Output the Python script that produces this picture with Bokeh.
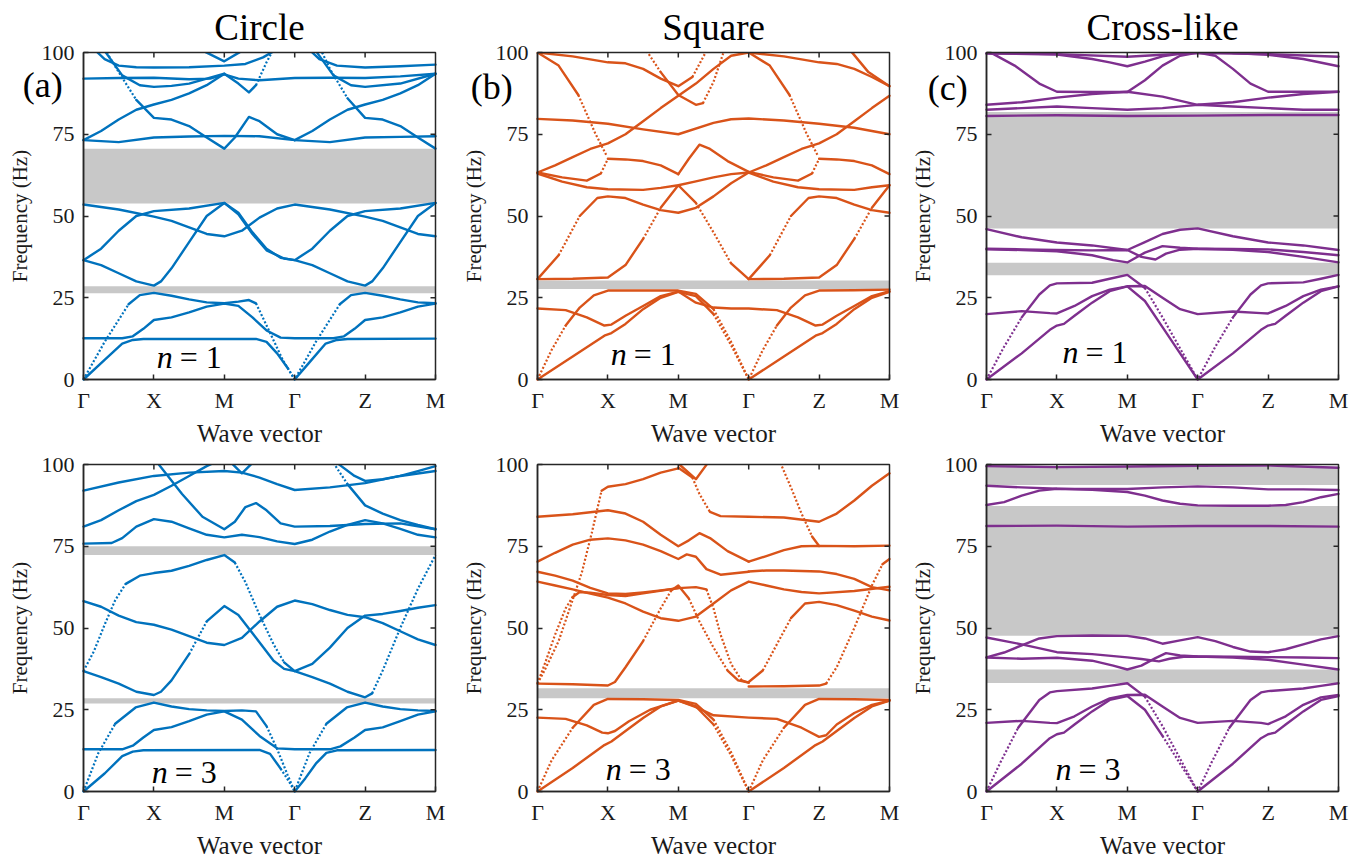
from bokeh.plotting import figure
from bokeh.models import Range1d, FixedTicker, Label
from bokeh.layouts import column, row
from bokeh.embed import file_html
from bokeh.resources import INLINE

# ---------------- data ----------------
K_TICKS = [0, 1, 2, 3, 4, 5]
K_LABELS = ["Γ", "X", "M", "Γ", "Z", "M"]
F_TICKS = [0, 25, 50, 75, 100]
TITLES = ["Circle", "Square", "Cross-like"]
TAGS = ["(a)", "(b)", "(c)"]
N_VALUES = ["1", "3"]
COLORS = ["#0072BD", "#D95319", "#7E2F8E"]

# band gaps (Hz): lower and upper edges
CIRCLE_N1_GAP_LO = [53.8, 26.4]
CIRCLE_N1_GAP_HI = [70.6, 28.5]
SQUARE_N1_GAP_LO = [27.7]
SQUARE_N1_GAP_HI = [30.3]
CROSS_N1_GAP_LO = [46.2, 31.9]
CROSS_N1_GAP_HI = [81.8, 35.7]
CIRCLE_N3_GAP_LO = [72.3, 26.9]
CIRCLE_N3_GAP_HI = [75.0, 28.5]
SQUARE_N3_GAP_LO = [28.5]
SQUARE_N3_GAP_HI = [31.6]
CROSS_N3_GAP_LO = [93.7, 47.6, 33.2]
CROSS_N3_GAP_HI = [99.3, 87.3, 37.3]

# bands: (wave-vector position along Γ-X-M-Γ-Z-M, frequency in Hz)
CIRCLE_N1 = [
    [(0,0),(0.3,6),(0.55,11),(0.7,12.1),(0.85,12.4),(2.45,12.4),(2.6,11.5),(2.75,8),(2.9,3.5),(3,0),(3.2,5),(3.44,11),(3.6,12.1),(3.75,12.4),(5,12.5)],
    [(0,0),(0.3,11.5),(0.64,23),(0.8,25.8),(1,26.5),(1.25,25.6),(1.5,24.5),(1.75,23.6),(2,23.3),(2.2,23.8),(2.35,24.3),(2.45,23.3),(2.59,17),(2.83,6),(3,0),(3.3,11.5),(3.64,23),(3.8,25.8),(4,26.5),(4.25,25.6),(4.5,24.5),(4.75,23.6),(5,23.3)],
    [(0,12.6),(0.55,12.6),(0.7,13.2),(0.85,15.5),(1,18.2),(1.25,19),(1.5,20.5),(1.75,22.3),(2,23.2),(2.2,22.5),(2.4,19),(2.6,15),(2.8,12.8),(3,12.6),(3.55,12.6),(3.7,13.2),(3.85,15.5),(4,18.2),(4.25,19),(4.5,20.5),(4.75,22.3),(5,23.2)],
    [(0,36.5),(0.25,35),(0.5,32.5),(0.75,30),(1,28.7),(1.1,30),(1.25,34),(1.5,42),(1.75,50),(2,54),(2.2,50.5),(2.4,44.5),(2.6,39.5),(2.85,37),(3,36.5),(3.25,35),(3.5,32.5),(3.75,30),(4,28.7),(4.1,30),(4.25,34),(4.5,42),(4.75,50),(5,54)],
    [(0,36.5),(0.25,40),(0.5,45.5),(0.75,50),(1,51.5),(1.5,52.3),(2,54),(2.2,51),(2.4,45),(2.6,40),(2.8,37.2),(3,36.5),(3.25,40),(3.5,45.5),(3.75,50),(4,51.5),(4.5,52.3),(5,54)],
    [(0,53.5),(0.5,52),(1,49.8),(1.25,48.5),(1.5,46.5),(1.75,44.5),(2,43.8),(2.25,45.5),(2.5,49.5),(2.75,52.3),(3,53.5),(3.5,52),(4,49.8),(4.25,48.5),(4.5,46.5),(4.75,44.5),(5,43.8)],
    [(0,73.2),(0.5,72.6),(1,74),(1.5,74.3),(2,74.5),(2.5,74.4),(3,73.2),(3.5,72.6),(4,74),(4.5,74.2),(5,74.4)],
    [(0,73.2),(0.25,76),(0.5,79.5),(0.75,82.5),(1,84.1),(1.25,85.5),(1.5,87.5),(1.75,90),(2,93.5),(2.2,90.5),(2.35,87.8),(2.45,90),(2.6,97),(2.7,101)],
    [(3,73.2),(3.25,76),(3.5,79.5),(3.75,82.5),(4,84.1),(4.25,85.5),(4.5,87.5),(4.75,90),(5,93.5)],
    [(0.2,104),(0.33,100),(0.5,94),(0.75,85.5),(1,80),(1.25,79.5),(1.5,77.5),(1.75,74),(2,70.6),(2.15,74),(2.35,80.3),(2.5,79),(2.75,75),(3,73.2)],
    [(3.2,104),(3.39,100),(3.5,95),(3.75,86),(4,80),(4.25,79.5),(4.5,77.5),(4.75,74),(5,70.6)],
    [(0,92),(0.5,92.2),(1,92.3),(1.5,91.8),(1.8,92),(2,93.3),(2.2,92),(2.5,91.5),(3,92.2),(3.5,92.3),(4,92.2),(4.5,92.7),(5,93.5)],
    [(0.15,101),(0.3,98),(0.5,96),(0.75,95.5),(1,95.4),(1.5,95.5),(2,96),(2.3,96.5),(2.55,98.5),(2.75,101)],
    [(0.3,100.5),(0.55,93),(0.8,90),(1,89.5),(1.25,89.8),(1.5,90.5),(1.75,92),(2,93.5)],
    [(3.3,100.5),(3.55,93),(3.8,90),(4,89.5),(4.5,90.5),(5,93.5)],
    [(3.2,101),(3.35,98),(3.6,96),(4,95.4),(4.5,95.8),(5,96.3)],
    [(1.7,100.5),(2,97.3),(2.25,100.5)],
]

SQUARE_N1 = [
    [(0,0),(0.5,7),(0.95,13.4),(1.05,14.2),(1.25,17),(1.5,21.5),(1.75,25),(2,26.8),(2.25,25.5),(2.5,20),(2.75,10.5),(3,0),(3.5,7),(3.95,13.4),(4.05,14.2),(4.25,17),(4.5,21.5),(4.75,25),(5,26.8)],
    [(0,0),(0.2,9),(0.4,16.5),(0.6,22),(0.8,25.7),(1,27.2),(1.5,27.2),(2,27.2),(2.25,26.2),(2.5,21.5),(2.75,11.5),(3,0),(3.2,9),(3.4,16.5),(3.6,22),(3.8,25.7),(4,27.2),(4.5,27.3),(5,27.5)],
    [(0,21.7),(0.4,21.2),(0.7,19),(0.95,16.5),(1.05,16.8),(1.25,19.5),(1.5,22.5),(1.75,25.5),(2,26.9),(2.25,23.5),(2.5,22),(2.75,21.7),(3,21.7),(3.4,21.2),(3.7,19),(3.95,16.5),(4.05,16.8),(4.25,19.5),(4.5,22.5),(4.75,25.5),(5,27)],
    [(0,30.7),(0.5,30.8),(1,31.2),(1.25,35),(1.5,43),(1.75,52.5),(2,59.4),(2.25,54),(2.5,45),(2.75,35.5),(3,30.7),(3.5,30.8),(4,31.2),(4.25,35),(4.5,43),(4.75,52.5),(5,59.4)],
    [(0,30.7),(0.3,38),(0.6,50),(0.85,55.5),(1,56),(1.25,55.5),(1.5,53.5),(1.75,51.8),(2,51),(2.25,52.5),(2.5,56),(2.75,60),(3,63.3)],
    [(3,30.7),(3.3,38),(3.6,50),(3.85,55.5),(4,56),(4.25,55.5),(4.5,53.5),(4.75,51.8),(5,51)],
    [(0,79.7),(0.5,79.2),(1,78.2),(1.5,76.5),(2,75),(2.5,78.5),(2.75,79.6),(3,79.8),(3.5,79.2),(4,78.2),(4.5,77),(5,75)],
    [(0,63.3),(0.25,65.5),(0.5,68),(0.75,70.5),(1,72.2),(1.25,75),(1.5,79),(1.75,83),(2,86.8),(2.25,90.5),(2.5,95),(2.75,99),(3,100)],
    [(3,63.3),(3.25,65.5),(3.5,68),(3.75,70.5),(4,72.2),(4.25,75),(4.5,79),(4.75,83),(5,86.8)],
    [(2,62.8),(2.15,67.5),(2.3,71.8),(2.45,70.5),(2.7,66.8),(3,63.5)],
    [(0,63.3),(0.35,61.8),(0.7,60.8),(0.9,63),(1,67.5),(1.25,67.3),(1.5,66.8),(1.75,65.5),(2,62.8)],
    [(3,63.5),(3.35,61.8),(3.7,60.8),(3.9,63),(4,67.5),(4.25,67.3),(4.5,66.8),(4.75,65.5),(5,62.8)],
    [(0,63),(0.35,60.5),(0.7,58.8),(1,58.2),(1.5,58),(1.75,58.6),(2,59.4),(2.25,60.6),(2.5,61.8),(2.75,62.8),(3,63.3)],
    [(3,63.3),(3.35,60.5),(3.7,58.8),(4,58.2),(4.5,58),(4.75,58.8),(5,59.4)],
    [(0,100),(0.3,96),(0.58,87),(0.82,75.3),(0.98,68.5)],
    [(3,100),(3.3,96),(3.58,87),(3.82,75.3),(3.98,68.5)],
    [(0,100),(0.5,98.8),(1,97),(1.25,96.7),(1.5,95),(1.75,92),(2,89.7),(2.2,92.5),(2.4,100.5)],
    [(3,100),(3.5,98.8),(4,97),(4.25,96.5),(4.5,95),(4.75,92.5),(5,89.7)],
    [(1.55,100.5),(1.75,94),(2,87),(2.25,84),(2.35,84.5),(2.5,91),(2.65,100.5)],
    [(4.45,100.5),(4.7,94),(5,89.7)],
]

CROSS_N1 = [
    [(0,0),(0.5,8),(0.9,15.2),(1,16.5),(1.1,17),(1.25,19.5),(1.5,23.5),(1.75,27),(2,28.5),(2.25,24),(2.5,16),(2.75,8),(3,0),(3.5,8),(3.9,15.2),(4,16.5),(4.1,17),(4.25,19.5),(4.5,23.5),(4.75,27),(5,28.5)],
    [(0,0),(0.25,10),(0.5,19),(0.75,26),(0.9,28.8),(1,29.4),(1.5,29.6),(1.75,30.8),(2,32),(2.25,28),(2.5,19),(2.75,9.5),(3,0),(3.25,10),(3.5,19),(3.75,26),(3.9,28.8),(4,29.4),(4.5,29.7),(4.75,30.8),(5,32)],
    [(0,20),(0.5,20.9),(0.9,20.3),(1,20.2),(1.25,22.5),(1.5,25.5),(1.75,27.5),(2,28.5),(2.25,28.6),(2.5,25),(2.75,21.5),(3,20),(3.5,20.8),(3.9,20.3),(4,20.2),(4.25,22.5),(4.5,25.5),(4.75,27.5),(5,28.5)],
    [(0,46),(0.5,43.5),(1,41.9),(1.5,41),(2,39.6),(2.25,42),(2.5,44.5),(2.75,45.8),(3,46.2),(3.5,43.8),(4,41.9),(4.5,41),(5,39.6)],
    [(0,40),(0.5,39.8),(1,39.6),(1.5,39.5),(2,39.6),(2.2,37.5),(2.4,36.7),(2.55,38.5),(2.75,39.7),(3,40),(3.5,39.9),(4,39.8),(4.5,39),(5,38)],
    [(0,39.8),(0.5,39.6),(1,39.2),(1.5,38),(1.8,36.5),(2,35.8),(2.25,38.8),(2.5,40.8),(2.75,40.3),(3,40),(3.5,39.7),(4,39),(4.5,37.5),(5,35.8)],
    [(0,80.6),(1,80.8),(2,80.6),(3,80.7),(4,80.9),(5,80.9)],
    [(0,84),(0.5,84.8),(1,86.2),(1.5,87.3),(2,88),(2.5,86.5),(3,84),(3.5,84.8),(4,86.2),(4.5,87.3),(5,88)],
    [(0,100),(0.1,99.5),(0.4,96),(0.75,90.5),(1,88),(1.5,87.9),(2,87.9),(2.25,91.5),(2.5,96),(2.75,99),(3,100),(3.25,99),(3.5,95),(3.75,90.5),(4,88),(4.5,88),(5,88)],
    [(0,82.5),(0.5,83),(1,83.5),(1.5,83),(2,82.5),(2.5,83),(3,84),(3.5,83.5),(4,83),(4.5,82.5),(5,82.5)],
    [(0,99.7),(1,99.4),(1.5,98),(1.75,97),(2,95.8),(2.25,97.2),(2.5,98.8),(2.75,99.7)],
    [(0,99.8),(1,99.5),(2,98.7),(2.5,99.3),(3,99.8),(4,99.5),(5,98.7)],
    [(3.5,99.8),(4,99.3),(4.5,98),(5,95.8)],
]

CIRCLE_N3 = [
    [(0,0),(0.3,5.5),(0.55,10.8),(0.7,12.2),(0.85,12.6),(2.5,12.7),(2.65,11.5),(2.8,7),(2.92,3),(3,0),(3.15,4),(3.3,8.5),(3.45,11.8),(3.6,12.6),(5,12.7)],
    [(0,0),(0.21,11.7),(0.45,20.7),(0.74,25.7),(1,27.2),(1.25,26),(1.5,25.2),(1.75,24.8),(2,24.6),(2.25,24.8),(2.45,24.5),(2.6,20),(2.75,13),(2.9,5),(3,0),(3.21,11.7),(3.45,20.7),(3.74,25.7),(4,27.2),(4.25,26),(4.5,25.2),(4.75,24.8),(5,24.6)],
    [(0,12.9),(0.55,12.9),(0.7,14),(0.85,16.5),(1,18.8),(1.25,19.7),(1.5,21.5),(1.75,23.5),(2,24.5),(2.25,22),(2.5,17),(2.75,13.2),(3,12.9),(3.5,12.9),(3.65,13.8),(3.85,16.5),(4,18.8),(4.25,19.6),(4.5,21.5),(4.75,23.5),(5,24.5)],
    [(0,36.8),(0.25,35),(0.5,33),(0.75,30.5),(1,29.5),(1.1,30.5),(1.25,34),(1.5,42),(1.75,52),(2,56.7),(2.2,54),(2.45,47),(2.7,40),(2.85,37.5),(3,36.8),(3.25,35),(3.5,33),(3.75,30.5),(4,28.8),(4.1,30),(4.25,37),(4.5,50),(4.75,62),(5,72.3)],
    [(0,36.8),(0.15,43),(0.3,51),(0.45,58.5),(0.6,63.5),(0.8,66),(1,66.8),(1.25,67.5),(1.5,69),(1.75,70.8),(2,72.3),(2.15,70),(2.3,64),(2.5,54),(2.7,45),(2.85,39.5),(3,36.8),(3.25,39),(3.5,44),(3.75,50),(4,53.8),(4.25,54.3),(4.5,55.2),(4.75,56.2),(5,57)],
    [(0,58.2),(0.25,56.5),(0.5,53.8),(0.75,51.8),(1,51),(1.25,49.5),(1.5,47.5),(1.75,45.5),(2,44.8),(2.25,47),(2.5,52),(2.75,56.5),(3,58.4),(3.25,57.3),(3.5,55.5),(3.75,54),(4,53.3),(4.25,51.5),(4.5,49),(4.75,46.5),(5,44.8)],
    [(0,75.8),(0.4,76),(0.55,77.5),(0.75,81),(1,83.3),(1.25,82.5),(1.5,80.5),(1.75,78.5),(2,77.7),(2.25,78.5),(2.5,77.8),(2.75,76.5),(3,75.7),(3.25,77),(3.5,79.5),(3.75,81.5),(4,83),(4.25,82),(4.5,80.3),(4.75,78.5),(5,77.7)],
    [(0,81),(0.25,83),(0.5,86),(0.75,88.8),(1,90.7),(1.25,93.5),(1.5,96.5),(1.75,99.5),(1.85,100.5)],
    [(0,92),(0.5,94.5),(1,96.5),(1.5,97.5),(2,98),(2.25,97.5),(2.5,96),(2.75,94),(3,92.2),(3.5,93),(4,94.3),(4.5,96.5),(5,98)],
    [(1.05,100.5),(1.4,91),(1.69,84),(2,80.2),(2.15,82.5),(2.3,87),(2.45,88.2),(2.6,86),(2.8,82),(3,81),(3.5,81.2),(4,81.8),(4.5,82),(5,80.2)],
    [(3.55,100.5),(3.75,94),(4,87.5),(4.25,85),(4.5,83),(4.75,81.5),(5,80.2)],
    [(3.6,100.5),(3.85,96.5),(4,95),(4.25,95.5),(4.5,96.5),(4.75,98),(5,99.5)],
    [(2.1,100.5),(2.25,97.3),(2.4,100.5)],
]

SQUARE_N3 = [
    [(0,0),(0.5,7.2),(0.95,14.2),(1.05,15.3),(1.25,18.5),(1.5,22.5),(1.75,26),(2,27.8),(2.25,26),(2.5,20.5),(2.75,11),(3,0),(3.5,7.2),(3.95,14.2),(4.05,15.3),(4.25,18.5),(4.5,22.5),(4.75,26),(5,27.8)],
    [(0,0),(0.2,9.5),(0.5,19.5),(0.8,26.5),(1,28.3),(1.5,28.2),(2,28),(2.25,26.8),(2.5,22),(2.75,12),(3,0),(3.2,9.5),(3.5,19.5),(3.8,26.5),(4,28.3),(4.5,28.2),(5,28)],
    [(0,22.6),(0.4,22.2),(0.7,20.2),(0.92,18),(1,17.8),(1.1,18.5),(1.3,21.5),(1.6,25),(2,27.8),(2.25,25.8),(2.5,23.3),(3,22.6),(3.4,22.2),(3.75,19.5),(4,16.7),(4.1,17.2),(4.25,20.5),(4.5,24),(4.75,26.5),(5,27.8)],
    [(0,33),(0.1,37),(0.3,46),(0.49,58),(0.63,67),(0.77,79),(0.91,92),(1,93.2),(1.25,94),(1.5,95.5),(1.75,97.5),(2,98.8)],
    [(0,33),(0.12,40),(0.25,48),(0.4,56),(0.5,59.5),(0.6,61),(0.75,60.8),(1,60.1),(1.25,59.8),(1.5,60.6),(2,62.2),(2.25,62.5),(2.4,61.8),(2.5,56),(2.6,48),(2.75,39),(2.9,34),(3,33.3)],
    [(0,64.2),(0.25,63),(0.5,61.8),(0.75,60.5),(1,59.3),(1.25,57.5),(1.5,55),(1.75,53),(2,52.2),(2.25,53.5),(2.5,57.5),(2.75,61.5),(3,64.2),(3.25,63),(3.5,61.8),(3.75,61),(4,60.6),(4.5,61.3),(5,62.6)],
    [(0,84),(0.5,84.8),(1,86),(1.25,85),(1.5,82.5),(1.75,78.5),(2,75),(2.15,76.8),(2.3,79),(2.45,77.5),(2.7,73.5),(3,70.3)],
    [(0,70.3),(0.25,73),(0.5,75.5),(0.75,77),(1,77.4),(1.25,76.8),(1.5,75.5),(1.75,73.5),(2,71.1),(2.12,72.5),(2.25,71.8),(2.4,68),(2.6,66.3),(3,67.2)],
    [(0,33),(0.5,32.8),(1,32.4),(1.1,33.5),(1.25,38),(1.5,46),(1.75,56),(1.9,61.5),(2,63),(2.15,59),(2.3,52),(2.5,44),(2.7,37),(2.85,34),(3,33.3)],
    [(3,33.5),(3.2,37),(3.4,45),(3.6,53),(3.8,57.5),(4,58),(4.25,57),(4.5,55.3),(4.75,53.5),(5,52.3)],
    [(3,32.1),(3.5,32.2),(4,32.4),(4.1,33),(4.25,38),(4.5,50),(4.75,63),(4.9,69.5),(5,71.1)],
    [(3.45,100.5),(3.6,93),(3.75,85),(3.9,78),(4,75.1)],
    [(2,99),(2.2,96),(2.3,91),(2.45,85.5),(2.6,84.2),(3,84),(3.5,83.8),(4,82.5),(4.25,85),(4.5,89),(4.75,93.5),(5,97.3)],
    [(3,70.3),(3.25,72),(3.5,73.8),(3.75,75),(4,75.1),(4.5,75),(5,75.2)],
    [(3,67.3),(3.25,67.6),(3.5,67.6),(4,67.3),(4.25,66.5),(4.5,65),(4.75,62.5),(5,61.5)],
    [(0,67.2),(0.25,66),(0.5,64.5),(0.75,62.3),(1,60.6),(1.25,60.4),(1.5,60.9),(1.75,61.5),(2,62.2)],
    [(2,100.3),(2.25,95.5),(2.42,100.5)],
]

CROSS_N3 = [
    [(0,0),(0.5,8.5),(0.9,16.3),(1,17.5),(1.1,18),(1.25,20.5),(1.5,24.5),(1.75,28),(2,29.2),(2.25,25),(2.5,17),(2.75,8.5),(3,0),(3.5,8.5),(3.9,16.3),(4,17.5),(4.1,18),(4.25,20.5),(4.5,24.5),(4.75,28),(5,29.2)],
    [(0,0),(0.2,9),(0.45,19.5),(0.75,28),(0.9,30.3),(1,30.7),(1.5,31.5),(1.75,32.3),(2,33.1),(2.25,29),(2.5,20),(2.75,10),(3,0),(3.2,9),(3.45,19.5),(3.75,28),(3.9,30.3),(4,30.7),(4.5,31.5),(4.75,32.3),(5,33.1)],
    [(0,21),(0.5,21.6),(0.9,21),(1,20.9),(1.25,23),(1.5,26),(1.75,28.5),(2,29.5),(2.25,29.6),(2.5,26),(2.75,22.5),(3,21),(3.5,21.6),(3.9,21),(4,20.6),(4.25,23),(4.5,26.5),(4.75,28.8),(5,29.5)],
    [(0,47.1),(0.5,45),(1,42.6),(1.5,42),(2,41),(2.2,40.5),(2.45,39.8),(2.6,40.6),(2.8,41.2),(3,41.3),(3.5,41.2),(4,41.1),(4.5,41),(5,40.8)],
    [(0,41),(0.25,42.5),(0.5,44.7),(0.75,46.8),(1,47.5),(1.5,47.7),(2,47.6),(2.25,46.8),(2.5,45.2),(2.75,46.2),(3,47.2),(3.25,46),(3.5,44.2),(3.75,42.8),(4,42.6),(4.25,43.5),(4.5,45),(4.75,46.5),(5,47.5)],
    [(0,41),(0.5,40.6),(1,40.9),(1.5,40),(1.8,38.5),(2,37.3),(2.2,38.5),(2.4,40.8),(2.55,42.3),(2.75,41.6),(3,41.3),(3.5,41),(4,40.3),(4.5,38.8),(5,37.3)],
    [(0,93.5),(0.5,93),(1,92.6),(1.5,92.5),(2,92.5),(2.5,93),(3,93.3),(3.5,93),(4,92.4),(4.5,92.4),(5,92.2)],
    [(0,87.6),(0.25,88.5),(0.5,90.5),(0.75,92),(1,92.6),(1.5,92.3),(2,91.6),(2.25,90.5),(2.5,89),(2.75,88),(3,87.5),(3.5,87.4),(4,87.4),(4.25,87.6),(4.5,88.5),(4.75,90),(5,91)],
    [(0,81.2),(1,81.3),(2,81),(3,81.2),(4,81.2),(5,81)],
    [(0,99.5),(1,99.2),(2,99.4),(3,99.6),(4,99.7),(5,99)],
]

# ---------------- layout / style ----------------
FONT = "Liberation Serif"
INK = "#1a1a1a"
FRAME_COLOR = "#262626"
GAP_COLOR = "#c8c8c8"
K_MAX, F_MAX = 5, 100
BOX_W, BOX_H = 352, 327                      # plot box size in px
BOX_LEFT = [83, 537, 986]                    # page x of each column's box
BOX_TOP = [52, 464]                          # page y of each row's box
COL_CANVAS = [(0, 457), (457, 906), (906, 1356)]
ROW_CANVAS = [(0, 445), (445, 862)]
TAG_POS = [(-0.58, 90.2), (-0.65, 89.6), (-0.55, 89.0)]
# centre heights of the "n = ..." texts (Hz units)
N_POS = [[(1.04, 7.0), (1.04, 7.9), (1.08, 8.3)],
         [(0.97, 6.1), (0.97, 7.0), (0.98, 7.0)]]
TITLE_GAP_PX = 25    # from box top up to the title's centre line
TICK_PX = 5
STEEP = 1.5          # on-screen slope above which the sampled band looks dotted
SOLID_W, DOT_W = 2.4, 2.2


def draw_band(p, band, color, pxk, pxf):
    ks = [pt[0] for pt in band]
    fs = [pt[1] for pt in band]
    runs = []
    for i in range(len(ks) - 1):
        dx = (ks[i + 1] - ks[i]) * pxk
        dy = abs(fs[i + 1] - fs[i]) * pxf
        steep = dy > STEEP * dx
        if runs and runs[-1][0] == steep:
            runs[-1][1].append(ks[i + 1])
            runs[-1][2].append(fs[i + 1])
        else:
            runs.append([steep, [ks[i], ks[i + 1]], [fs[i], fs[i + 1]]])
    for steep, rk, rf in runs:
        if steep:
            p.line(rk, rf, line_color=color, line_width=DOT_W, line_dash="2 2")
        else:
            p.line(rk, rf, line_color=color, line_width=SOLID_W,
                   line_join="round", line_cap="round")


def make_panel(bands, gap_lo, gap_hi, color, r, c):
    pxk = BOX_W / K_MAX
    pxf = BOX_H / F_MAX
    cx0, cx1 = COL_CANVAS[c]
    cy0, cy1 = ROW_CANVAS[r]
    bx0 = BOX_LEFT[c]
    by1 = BOX_TOP[r] + BOX_H
    x0, x1 = (cx0 - bx0) / pxk, (cx1 - bx0) / pxk
    y0, y1 = (by1 - cy1) / pxf, (by1 - cy0) / pxf

    p = figure(width=cx1 - cx0, height=cy1 - cy0,
               x_range=Range1d(x0, x1), y_range=Range1d(y0, y1),
               output_backend="svg", toolbar_location=None,
               min_border=0, min_border_left=0, min_border_right=0,
               min_border_top=0, min_border_bottom=0)
    p.grid.visible = False
    p.outline_line_color = None
    p.background_fill_color = "white"
    p.border_fill_color = "white"

    # band gaps
    p.quad(left=0, right=K_MAX, bottom=gap_lo, top=gap_hi,
           fill_color=GAP_COLOR, line_color=None)
    # bands
    for band in bands:
        draw_band(p, band, color, pxk, pxf)
    # white mask above the plot box (bands continue beyond 100 Hz)
    p.quad(left=x0, right=x1, bottom=F_MAX, top=y1, fill_color="white", line_color=None)
    # plot box and inner ticks on the top and right edges
    p.quad(left=0, right=K_MAX, bottom=0, top=F_MAX, fill_color=None,
           line_color=FRAME_COLOR, line_width=1.5)
    tk = K_TICKS[1:-1]
    p.segment(x0=tk, x1=tk, y0=[F_MAX] * len(tk), y1=[F_MAX - TICK_PX / pxf] * len(tk),
              line_color=FRAME_COLOR, line_width=1.5)
    tf = F_TICKS[1:-1]
    p.segment(x0=[K_MAX] * len(tf), x1=[K_MAX - TICK_PX / pxk] * len(tf), y0=tf, y1=tf,
              line_color=FRAME_COLOR, line_width=1.5)

    xa = p.xaxis[0]
    ya = p.yaxis[0]
    for ax in (xa, ya):
        ax.major_tick_in = TICK_PX
        ax.major_tick_out = 0
        ax.minor_tick_line_color = None
        ax.axis_line_color = FRAME_COLOR
        ax.axis_line_width = 1.5
        ax.major_tick_line_color = FRAME_COLOR
        ax.major_tick_line_width = 1.5
        ax.major_label_text_font = FONT
        ax.major_label_text_font_size = "22px"
        ax.major_label_text_color = INK
        ax.axis_label_text_font = FONT
        ax.axis_label_text_font_style = "normal"
        ax.axis_label_text_color = INK
        ax.fixed_location = 0
    xa.bounds = (0, K_MAX)
    ya.bounds = (0, F_MAX)
    xa.ticker = FixedTicker(ticks=K_TICKS)
    xa.major_label_overrides = {t: s for t, s in zip(K_TICKS, K_LABELS)}
    xa.major_label_standoff = 8
    xa.axis_label = "Wave vector"
    xa.axis_label_text_font_size = "25px"
    xa.axis_label_standoff = 4
    ya.ticker = FixedTicker(ticks=F_TICKS)
    ya.major_label_standoff = 9
    ya.axis_label = "Frequency (Hz)"
    ya.axis_label_text_font_size = "21px"
    ya.axis_label_standoff = 7

    if r == 0:
        p.add_layout(Label(x=K_MAX / 2, y=F_MAX + TITLE_GAP_PX / pxf, text=TITLES[c],
                           text_align="center", text_baseline="middle",
                           text_font=FONT, text_font_size="37px", text_color="black"))
        tx, ty = TAG_POS[c]
        p.add_layout(Label(x=tx, y=ty, text=TAGS[c], text_align="center",
                           text_baseline="middle", text_font=FONT,
                           text_font_size="36px", text_color="black"))
    nx, ny = N_POS[r][c]
    p.add_layout(Label(x=nx, y=ny, text="n", text_align="left",
                       text_baseline="middle", text_font=FONT,
                       text_font_style="italic", text_font_size="32px",
                       text_color="black"))
    p.add_layout(Label(x=nx + 23 / pxk, y=ny, text="= " + N_VALUES[r], text_align="left",
                       text_baseline="middle", text_font=FONT,
                       text_font_size="32px", text_color="black"))
    return p


panels = [
    [make_panel(CIRCLE_N1, CIRCLE_N1_GAP_LO, CIRCLE_N1_GAP_HI, COLORS[0], 0, 0),
     make_panel(SQUARE_N1, SQUARE_N1_GAP_LO, SQUARE_N1_GAP_HI, COLORS[1], 0, 1),
     make_panel(CROSS_N1, CROSS_N1_GAP_LO, CROSS_N1_GAP_HI, COLORS[2], 0, 2)],
    [make_panel(CIRCLE_N3, CIRCLE_N3_GAP_LO, CIRCLE_N3_GAP_HI, COLORS[0], 1, 0),
     make_panel(SQUARE_N3, SQUARE_N3_GAP_LO, SQUARE_N3_GAP_HI, COLORS[1], 1, 1),
     make_panel(CROSS_N3, CROSS_N3_GAP_LO, CROSS_N3_GAP_HI, COLORS[2], 1, 2)],
]

layout = column(row(*panels[0]), row(*panels[1]))
open("out.html", "w").write(file_html(layout, INLINE))
